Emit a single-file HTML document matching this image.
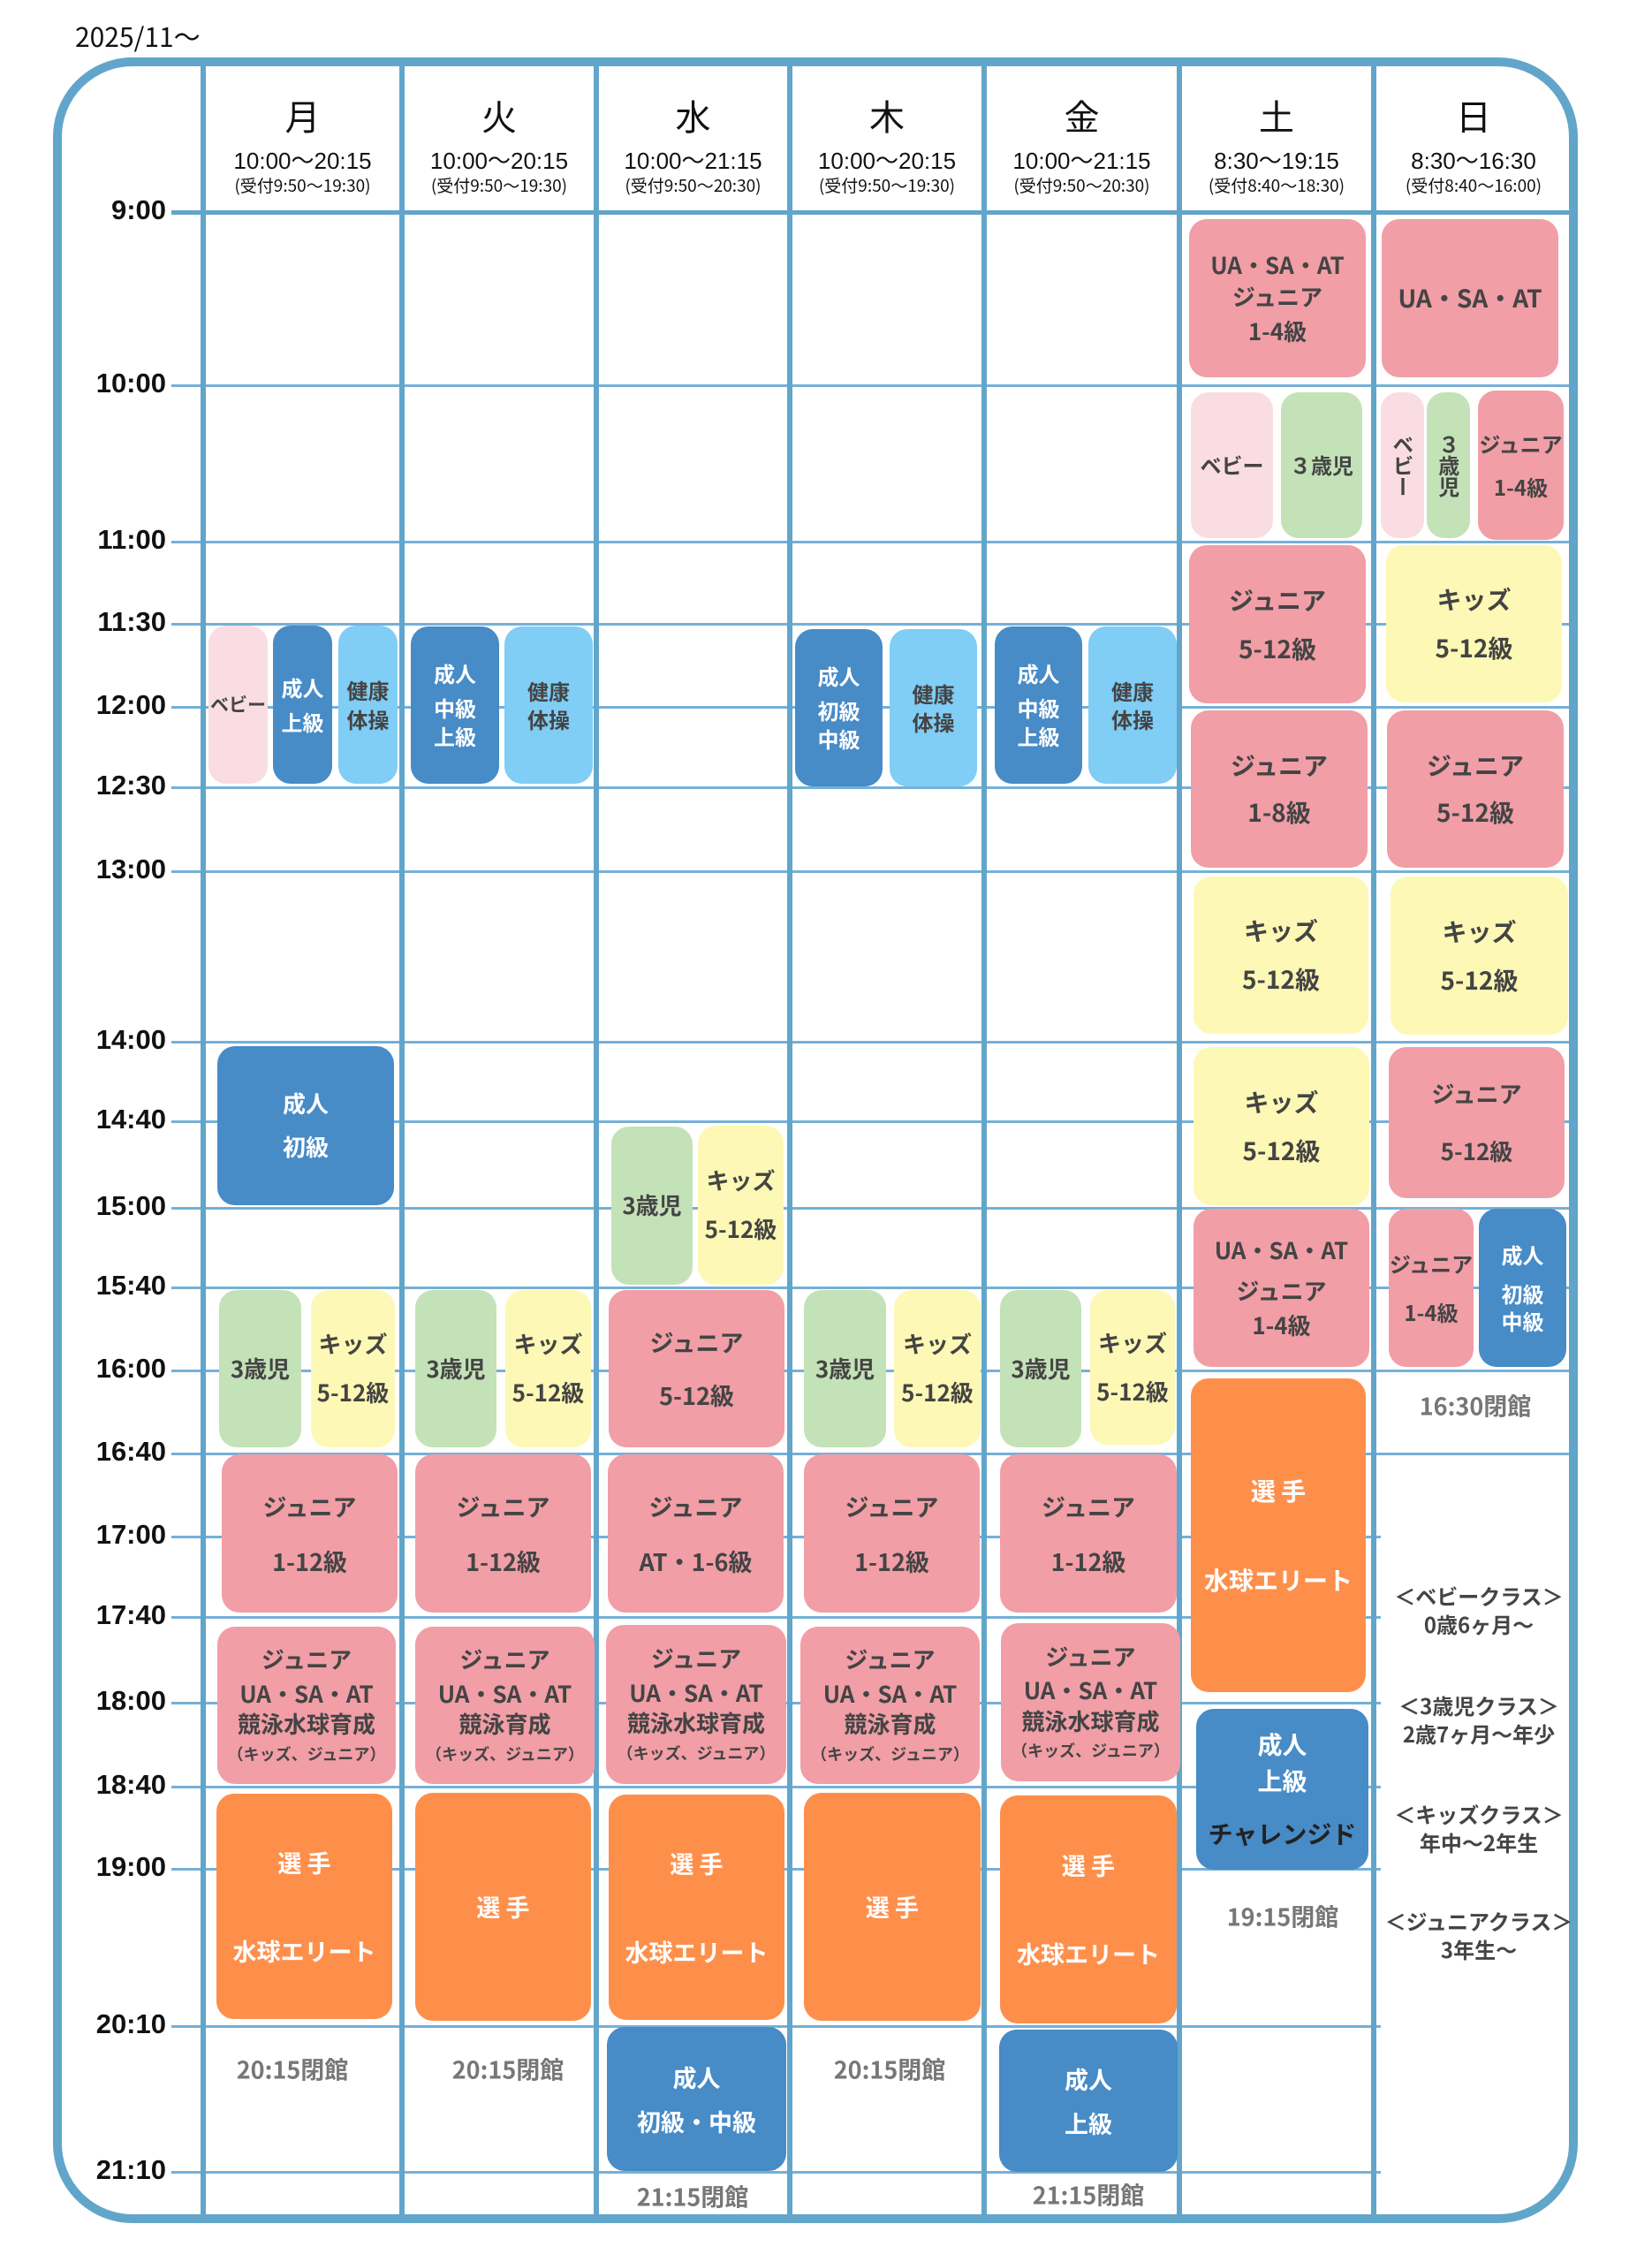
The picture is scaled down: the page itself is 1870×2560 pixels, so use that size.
<!DOCTYPE html>
<html lang="ja"><head><meta charset="utf-8">
<style>
html,body{margin:0;padding:0;background:#fff;}
body{width:1870px;height:2560px;position:relative;overflow:hidden;font-family:"Liberation Sans","Noto Sans CJK JP",sans-serif;}
.abs{position:absolute;}
.hl{position:absolute;height:3px;background:#74b0d8;}
.vl{position:absolute;width:6px;background:#62a5ca;top:72px;height:2440px;}
.tl{position:absolute;width:160px;left:28px;text-align:right;font-weight:bold;font-size:31px;color:#111;line-height:34px;}
.day{position:absolute;text-align:center;color:#111;}
.blk{position:absolute;border-radius:20px;display:flex;flex-direction:column;align-items:center;justify-content:center;font-weight:bold;font-family:"Noto Sans CJK JP",sans-serif;color:#444;text-align:center;white-space:nowrap;}
.blk span{display:block;line-height:1.1;}
.note{position:absolute;font-weight:bold;color:#777;font-size:27px;font-family:"Noto Sans CJK JP",sans-serif;transform:translate(-50%,-50%);white-space:nowrap;}
.leg{position:absolute;font-weight:bold;color:#444;font-size:24px;font-family:"Noto Sans CJK JP",sans-serif;transform:translateX(-50%);text-align:center;line-height:32px;white-space:nowrap;}
</style></head>
<body>
<div class="abs" style="left:85px;top:18px;font-size:30px;color:#111;font-family:'Noto Sans CJK JP',sans-serif;">2025/11〜</div>
<div class="abs" style="left:60px;top:65px;width:1706px;height:2431px;border:10px solid #62a5ca;border-radius:90px;"></div>
<div id="grid"></div>
<div id="blocks"></div>
<script>
const timeLabels=["9:00","10:00","11:00","11:30","12:00","12:30","13:00","14:00","14:40","15:00","15:40","16:00","16:40","17:00","17:40","18:00","18:40","19:00","20:10","21:10"];
const timeY=[240,436,613,706,800,891,986,1179,1269,1367,1457,1551,1645,1739,1830,1927,2022,2115,2293,2458];
const dayNames=["月","火","水","木","金","土","日"];
const dayHours=["10:00〜20:15","10:00〜20:15","10:00〜21:15","10:00〜20:15","10:00〜21:15","8:30〜19:15","8:30〜16:30"];
const dayRecep=["(受付9:50〜19:30)","(受付9:50〜19:30)","(受付9:50〜20:30)","(受付9:50〜19:30)","(受付9:50〜20:30)","(受付8:40〜18:30)","(受付8:40〜16:00)"];
const colX=[230,455,675,894,1114,1335,1555,1781];
const g=document.getElementById('grid');
timeY.forEach((y,i)=>{
  const l=document.createElement('div');l.className='hl';
  
  
  const right=(i<=12)?1776:1563;
  l.style.left='194px';l.style.top=(y-1)+'px';l.style.width=(right-194)+'px';
  if(i===0){l.style.height='5px';l.style.top=(y-2)+'px';l.style.background='#62a5ca';}
  g.appendChild(l);
  const t=document.createElement('div');t.className='tl';
  
  
  t.style.top=(y-19)+'px';t.textContent=timeLabels[i];g.appendChild(t);
});
for(let i=0;i<7;i++){
  const v=document.createElement('div');v.className='vl';
  
  
  v.style.left=(colX[i]-3)+'px';g.appendChild(v);
  const cx=(colX[i]+colX[i+1])/2;
  const d=document.createElement('div');d.className='day';
  
  
  d.style.left=(cx-110)+'px';d.style.width='220px';d.style.top='105px';
  d.innerHTML='<div style="font-size:40px;line-height:50px;font-family:\'Noto Sans CJK JP\',sans-serif">'+dayNames[i]+'</div><div style="font-size:26px;line-height:30px;margin-top:12px">'+dayHours[i]+'</div><div style="font-size:19px;line-height:22px;margin-top:2px;font-family:\'Noto Sans CJK JP\',sans-serif">'+dayRecep[i]+'</div>';
  g.appendChild(d);
}
const C={pk:'#f19ea7',db:'#478bc7',lb:'#80cdf5',bp:'#f9dde2',gr:'#c4e2b8',ye:'#fdf8b5',or:'#fe8f4b'};
const B=[
[236,708,303,887,'bp',[['ベビー',21,0]]],
[309,708,376,887,'db',[['成人',24,0],['上級',24,12]],'#fff'],
[383,708,450,887,'lb',[['健康',24,0],['体操',24,6]]],
[465,709,565,887,'db',[['成人',24,0],['中級',24,12],['上級',24,6]],'#fff'],
[571,709,671,887,'lb',[['健康',24,0],['体操',24,6]]],
[900,712,999,890,'db',[['成人',24,0],['初級',24,12],['中級',24,6]],'#fff'],
[1007,712,1106,890,'lb',[['健康',24,0],['体操',24,6]]],
[1126,709,1225,887,'db',[['成人',24,0],['中級',24,12],['上級',24,6]],'#fff'],
[1232,709,1332,887,'lb',[['健康',24,0],['体操',24,6]]],
[1346,248,1546,427,'pk',[['UA・SA・AT',26,0],['ジュニア',26,8],['1-4級',26,10]]],
[1348,444,1441,609,'bp',[['ベビー',24,0]]],
[1450,444,1542,609,'gr',[['３歳児',24,0]]],
[1346,617,1546,796,'pk',[['ジュニア',28,0],['5-12級',28,24]]],
[1348,804,1548,982,'pk',[['ジュニア',28,0],['1-8級',28,22]]],
[1351,992,1549,1170,'ye',[['キッズ',28,0],['5-12級',28,24]]],
[1351,1185,1550,1364,'ye',[['キッズ',28,0],['5-12級',28,24]]],
[1351,1368,1550,1547,'pk',[['UA・SA・AT',26,0],['ジュニア',26,18],['1-4級',26,10]]],
[1348,1560,1546,1915,'or',[['選 手',28,0],['水球エリート',28,70]],'#fff'],
[1354,1934,1549,2116,'db',[['成人',28,0],['上級',28,10],['チャレンジド',28,30,'#222']],'#fff'],
[1564,248,1764,427,'pk',[['UA・SA・AT',28,0]]],
[1563,444,1612,609,'bp',[['ベビー',24,0]],null,true],
[1615,444,1664,609,'gr',[['３歳児',24,0]],null,true],
[1673,442,1770,611,'pk',[['ジュニア',24,0],['1-4級',24,22]]],
[1569,617,1768,795,'ye',[['キッズ',28,0],['5-12級',28,24]]],
[1570,804,1770,982,'pk',[['ジュニア',28,0],['5-12級',28,22]]],
[1574,992,1775,1171,'ye',[['キッズ',28,0],['5-12級',28,24]]],
[1572,1185,1771,1356,'pk',[['ジュニア',26,0],['5-12級',26,36]]],
[1572,1368,1668,1547,'pk',[['ジュニア',24,0],['1-4級',24,28]]],
[1674,1368,1773,1547,'db',[['成人',24,0],['初級',24,18],['中級',24,4]],'#fff'],
[246,1184,446,1364,'db',[['成人',26,0],['初級',26,20]],'#fff'],
[248,1460,341,1638,'gr',[['3歳児',26,0]]],
[352,1460,447,1638,'ye',[['キッズ',26,0],['5-12級',26,26]]],
[251,1646,450,1825,'pk',[['ジュニア',27,0],['1-12級',27,32]]],
[246,1841,448,2019,'pk',[['ジュニア',26,0],['UA・SA・AT',26,10],['競泳水球育成',26,6],['（キッズ、ジュニア）',18,10]]],
[245,2030,444,2285,'or',[['選 手',27,0],['水球エリート',27,70]],'#fff'],
[470,1460,562,1638,'gr',[['3歳児',26,0]]],
[572,1460,669,1638,'ye',[['キッズ',26,0],['5-12級',26,26]]],
[470,1646,669,1825,'pk',[['ジュニア',27,0],['1-12級',27,32]]],
[470,1841,673,2019,'pk',[['ジュニア',26,0],['UA・SA・AT',26,10],['競泳育成',26,6],['（キッズ、ジュニア）',18,10]]],
[470,2029,669,2287,'or',[['選 手',27,0]],'#fff'],
[692,1275,784,1454,'gr',[['3歳児',26,0]]],
[790,1274,887,1454,'ye',[['キッズ',26,0],['5-12級',26,26]]],
[689,1460,888,1638,'pk',[['ジュニア',27,0],['5-12級',27,30]]],
[688,1646,887,1825,'pk',[['ジュニア',27,0],['AT・1-6級',27,32]]],
[686,1839,890,2019,'pk',[['ジュニア',26,0],['UA・SA・AT',26,10],['競泳水球育成',26,6],['（キッズ、ジュニア）',18,10]]],
[689,2031,888,2286,'or',[['選 手',27,0],['水球エリート',27,70]],'#fff'],
[687,2294,890,2457,'db',[['成人',27,0],['初級・中級',27,20]],'#fff'],
[910,1460,1003,1638,'gr',[['3歳児',26,0]]],
[1012,1460,1110,1638,'ye',[['キッズ',26,0],['5-12級',26,26]]],
[910,1646,1109,1825,'pk',[['ジュニア',27,0],['1-12級',27,32]]],
[906,1841,1109,2019,'pk',[['ジュニア',26,0],['UA・SA・AT',26,10],['競泳育成',26,6],['（キッズ、ジュニア）',18,10]]],
[910,2029,1110,2287,'or',[['選 手',27,0]],'#fff'],
[1132,1460,1224,1638,'gr',[['3歳児',26,0]]],
[1234,1460,1330,1635,'ye',[['キッズ',26,0],['5-12級',26,26]]],
[1132,1646,1332,1825,'pk',[['ジュニア',27,0],['1-12級',27,32]]],
[1133,1837,1336,2016,'pk',[['ジュニア',26,0],['UA・SA・AT',26,10],['競泳水球育成',26,6],['（キッズ、ジュニア）',18,10]]],
[1132,2032,1332,2290,'or',[['選 手',27,0],['水球エリート',27,70]],'#fff'],
[1131,2297,1333,2458,'db',[['成人',27,0],['上級',27,20]],'#fff']
];
const bc=document.getElementById('blocks');
B.forEach(b=>{
  const d=document.createElement('div');d.className='blk';
  
  
  d.style.left=b[0]+'px';d.style.top=b[1]+'px';d.style.width=(b[2]-b[0])+'px';d.style.height=(b[3]-b[1])+'px';
  d.style.background=C[b[4]];if(b[6])d.style.color=b[6];
  b[5].forEach(l=>{
    const s=document.createElement('span');
    
    
    s.textContent=l[0];s.style.fontSize=l[1]+'px';s.style.marginTop=l[2]+'px';
    if(l[3])s.style.color=l[3];
    if(b[7]){s.style.writingMode='vertical-rl';}
    d.appendChild(s);
  });
  bc.appendChild(d);
});
const notes=[['20:15閉館',331,2341],['20:15閉館',575,2341],['20:15閉館',1007,2341],['21:15閉館',784,2485],['21:15閉館',1232,2483],['19:15閉館',1452,2168],['16:30閉館',1670,1590]];
notes.forEach(n=>{
  const d=document.createElement('div');d.className='note';
  
  
  d.textContent=n[0];d.style.left=n[1]+'px';d.style.top=n[2]+'px';bc.appendChild(d);
});
const legends=[['＜ベビークラス＞','0歳6ヶ月〜',1790],['＜3歳児クラス＞','2歳7ヶ月〜年少',1914],['＜キッズクラス＞','年中〜2年生',2037],['＜ジュニアクラス＞','3年生〜',2158]];
legends.forEach(l=>{
  const d=document.createElement('div');d.className='leg';
  
  
  d.innerHTML=l[0]+'<br>'+l[1];d.style.left='1674px';d.style.top=l[2]+'px';bc.appendChild(d);
});
</script>
</body></html>
